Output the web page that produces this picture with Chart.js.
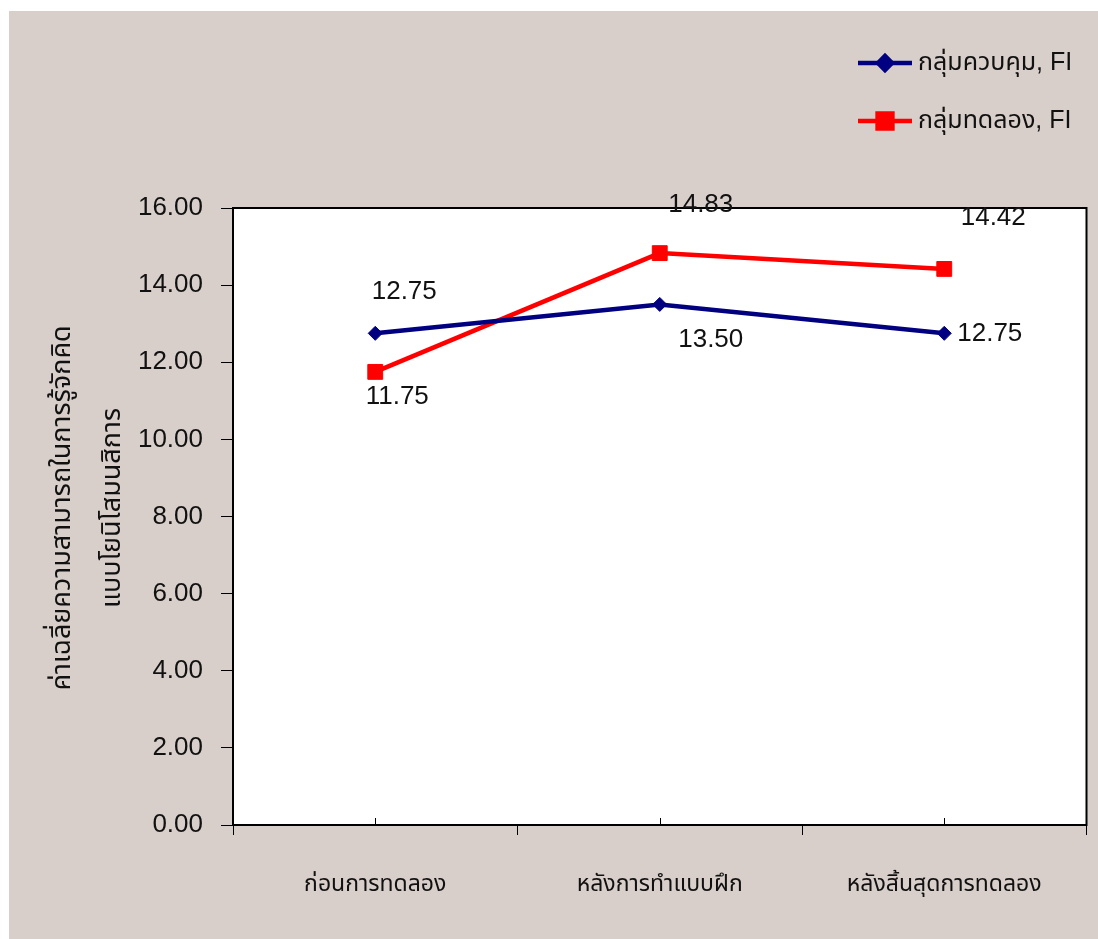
<!DOCTYPE html>
<html>
<head>
<meta charset="utf-8">
<script src="https://cdn.jsdelivr.net/npm/chart.js@4.4.1/dist/chart.umd.min.js"></script>
<style>
  html, body { margin: 0; padding: 0; background: #ffffff; }
  #wrap { position: absolute; left: 9px; top: 11px; width: 1089px; height: 928px; background: #d8cfca; }
</style>
</head>
<body>
<div id="wrap"><canvas id="fiChart" width="1089" height="928"></canvas></div>
<script>
// ข้อมูลกราฟ
const categories = ['ก่อนการทดลอง', 'หลังการทำแบบฝึก', 'หลังสิ้นสุดการทดลอง'];
const controlValues = [12.75, 13.50, 12.75];
const experimentValues = [11.75, 14.83, 14.42];
const seriesNames = ['กลุ่มควบคุม, FI', 'กลุ่มทดลอง, FI'];
const yTitleLines = ['ค่าเฉลี่ยความสามารถในการรู้จักคิด', 'แบบโยนิโสมนสิการ'];

const numFont = "'Liberation Sans', Arial, sans-serif";
const thaiFont = "'Liberation Sans', Tahoma, 'Noto Sans Thai', Loma, Garuda, sans-serif";

// ตำแหน่งป้ายค่า (dx, dy จากจุด)
const labelOffsets = [
    [[29, -42], [51, 35], [13, 0]],
    [[22, 25], [41, -48], [49, -51]]
];

const plotBox = {
    id: 'plotBox',
    beforeDatasetsDraw(chart) {
        const a = chart.chartArea;
        const ctx = chart.ctx;
        ctx.save();
        ctx.fillStyle = '#ffffff';
        ctx.fillRect(a.left, a.top, a.right - a.left, a.bottom - a.top);
        // ขีดเล็กด้านในที่ตำแหน่งหมวดหมู่
        const x = chart.scales.x;
        ctx.strokeStyle = '#000';
        ctx.lineWidth = 1;
        categories.forEach((c, i) => {
            const px = Math.round(x.getPixelForValue(i)) + 0.5;
            ctx.beginPath();
            ctx.moveTo(px, a.bottom);
            ctx.lineTo(px, a.bottom - 7);
            ctx.stroke();
        });
        ctx.lineWidth = 2;
        ctx.strokeRect(a.left, a.top, a.right - a.left, a.bottom - a.top);
        ctx.restore();
    },
    afterDatasetsDraw(chart) {
        const ctx = chart.ctx;
        ctx.save();
        // ป้ายค่า
        ctx.font = '26px ' + numFont;
        ctx.fillStyle = '#111';
        ctx.textBaseline = 'middle';
        chart.data.datasets.forEach((ds, di) => {
            const meta = chart.getDatasetMeta(di);
            meta.data.forEach((pt, i) => {
                const off = labelOffsets[di][i];
                ctx.textAlign = (di === 0 && i === 2) ? 'left' : 'center';
                ctx.fillText(ds.data[i].toFixed(2), pt.x + off[0], pt.y + off[1]);
            });
        });
        // ชื่อแกน y
        ctx.font = '27px ' + thaiFont;
        ctx.textAlign = 'center';
        const cy = 497;
        [54, 104].forEach((tx, k) => {
            ctx.save();
            ctx.translate(tx, cy);
            ctx.rotate(-Math.PI / 2);
            ctx.fillText(yTitleLines[k], 0, 0);
            ctx.restore();
        });
        // คำอธิบายสัญลักษณ์
        const rows = [52, 110];
        chart.data.datasets.forEach((ds, di) => {
            const y = rows[di];
            ctx.strokeStyle = ds.borderColor;
            ctx.lineWidth = 4.5;
            ctx.beginPath();
            ctx.moveTo(849, y);
            ctx.lineTo(903, y);
            ctx.stroke();
            Chart.helpers.drawPoint(ctx, {
                pointStyle: ds.pointStyle, radius: ds.pointRadius, rotation: 0, borderWidth: 1
            }, 876, y);
            ctx.fillStyle = ds.borderColor;
            ctx.fill();
            ctx.fillStyle = '#111';
            ctx.font = '25px ' + thaiFont;
            ctx.textAlign = 'left';
            ctx.fillText(seriesNames[di], 909, y);
        });
        ctx.restore();
    }
};

const config = {
    type: 'line',
    data: {
        labels: categories,
        datasets: [{
            label: seriesNames[0],
            data: controlValues,
            borderColor: '#000080',
            backgroundColor: '#000080',
            borderWidth: 4.5,
            pointStyle: 'rectRot',
            pointRadius: 7,
            pointBorderWidth: 1,
            tension: 0
        }, {
            label: seriesNames[1],
            data: experimentValues,
            borderColor: '#ff0000',
            backgroundColor: '#ff0000',
            borderWidth: 4.5,
            pointStyle: 'rect',
            pointRadius: 10.5,
            pointBorderWidth: 1,
            tension: 0
        }]
    },
    options: {
        responsive: false,
        animation: false,
        events: [],
        layout: { padding: { top: 197, right: 10, left: 0, bottom: 0 } },
        plugins: {
            legend: { display: false },
            tooltip: { enabled: false }
        },
        scales: {
            x: {
                offset: true,
                border: { display: false },
                grid: {
                    offset: true,
                    drawOnChartArea: false,
                    drawTicks: true,
                    tickLength: 10,
                    color: '#000',
                    lineWidth: 1
                },
                ticks: {
                    color: '#111',
                    padding: 36,
                    maxRotation: 0,
                    font: { family: thaiFont, size: 23 }
                },
                afterFit(scale) {
                    scale.height = 114;
                    scale.paddingLeft = 0;
                    scale.paddingRight = 0;
                }
            },
            y: {
                min: 0,
                max: 16,
                border: { display: false },
                grid: {
                    drawOnChartArea: false,
                    drawTicks: true,
                    tickLength: 12,
                    color: '#000',
                    lineWidth: 1
                },
                ticks: {
                    stepSize: 2,
                    color: '#111',
                    padding: 18,
                    font: { family: numFont, size: 26 },
                    callback: function(value) {
                        return value.toFixed(2);
                    }
                },
                afterFit(scale) { scale.width = 224; }
            }
        }
    },
    plugins: [plotBox]
};

new Chart(document.getElementById('fiChart').getContext('2d'), config);
</script>
</body>
</html>
